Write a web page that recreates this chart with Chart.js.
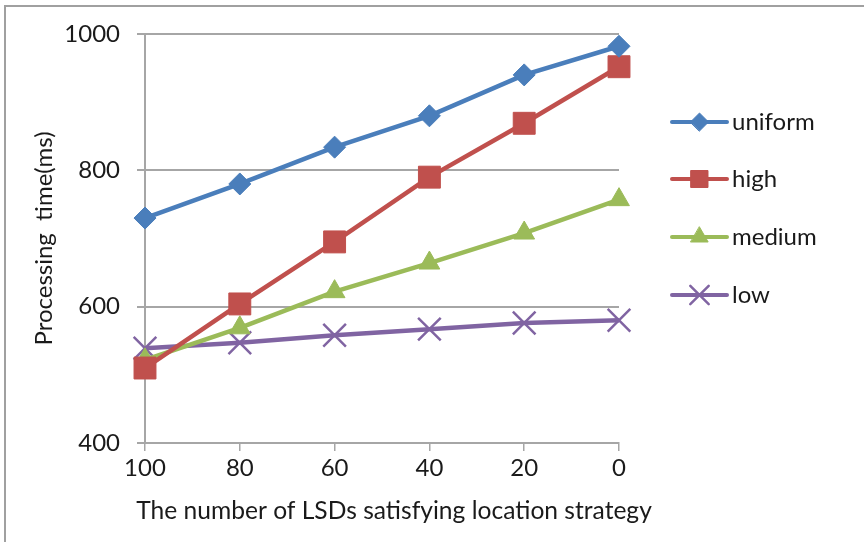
<!DOCTYPE html>
<html>
<head>
<meta charset="utf-8">
<script src="https://cdn.jsdelivr.net/npm/chart.js@4/dist/chart.umd.min.js"></script>
<style>
  html, body { margin: 0; padding: 0; background: #fff; }
  #wrap { width: 864px; height: 542px; }
</style>
</head>
<body>
<div id="wrap"><canvas id="c" width="864" height="542"></canvas></div>
<script>
// Number of LSDs satisfying the location strategy (x categories)
const categories = ['100', '80', '60', '40', '20', '0'];

// Processing time (ms) per distribution
const uniform = [730, 780, 834, 880, 940, 982];
const high    = [510, 604, 695, 790, 869, 952];
const medium  = [522, 569, 622, 664, 708, 757];
const low     = [539, 547, 558, 567, 576, 580];

const seriesNames = ['uniform', 'high', 'medium', 'low'];
const yTicks = [400, 600, 800, 1000];
const xTitle = 'The number of LSDs satisfying location strategy';
const yTitle = 'Processing  time(ms)';

const FONT = 'Lato, "Open Sans", sans-serif';
const TEXT = '#1a1a1a';
const GRID = '#a6a6a6';

const styles = [
  { color: '#4A7EBB', pointStyle: 'rectRot', radius: 11, legendRadius: 9 },
  { color: '#C0504D', pointStyle: 'rect', radius: 15.5, legendRadius: 12 },
  { color: '#9BBB59', pointStyle: 'triangle', radius: 12, legendRadius: 10 },
  { color: '#8064A2', pointStyle: 'crossRot', radius: 16, legendRadius: 13 }
];

const values = [uniform, high, medium, low];

const datasets = values.map((vals, i) => ({
  label: seriesNames[i],
  data: vals,
  borderColor: styles[i].color,
  backgroundColor: styles[i].color,
  borderWidth: 4.5,
  pointStyle: styles[i].pointStyle,
  pointRadius: styles[i].radius,
  pointHoverRadius: styles[i].radius,
  pointBackgroundColor: styles[i].color,
  pointBorderColor: styles[i].color,
  pointBorderWidth: i === 3 ? 2.5 : 1,
  tension: 0,
  clip: false
}));

// Outer frame: top and left edges of the chart box
const framePlugin = {
  id: 'frame',
  beforeDraw(chart) {
    const ctx = chart.ctx;
    ctx.save();
    ctx.fillStyle = '#ffffff';
    ctx.fillRect(0, 0, chart.width, chart.height);
    ctx.strokeStyle = '#a0a0a0';
    ctx.lineWidth = 2;
    ctx.beginPath();
    ctx.moveTo(5, chart.height);
    ctx.lineTo(5, 6);
    ctx.lineTo(chart.width, 6);
    ctx.stroke();
    ctx.restore();
  }
};

// Legend to the right of the plot (line segment with marker, then name)
// and the horizontal axis title below the tick labels
const legendPlugin = {
  id: 'sideLegend',
  afterDraw(chart) {
    const ctx = chart.ctx;
    const x0 = 672, x1 = 727, tx = 732;
    const rows = [122, 179, 237, 295];
    ctx.save();
    chart.data.datasets.forEach((ds, i) => {
      const y = rows[i];
      ctx.strokeStyle = ds.borderColor;
      ctx.lineWidth = 4;
      ctx.lineCap = 'round';
      ctx.beginPath();
      ctx.moveTo(x0, y);
      ctx.lineTo(x1, y);
      ctx.stroke();
      ctx.fillStyle = ds.borderColor;
      ctx.strokeStyle = ds.borderColor;
      ctx.lineWidth = i === 3 ? 2.5 : 1;
      Chart.helpers.drawPoint(ctx, {
        pointStyle: ds.pointStyle,
        rotation: 0,
        radius: styles[i].legendRadius,
        borderWidth: ctx.lineWidth
      }, (x0 + x1) / 2, y);
      ctx.fillStyle = TEXT;
      ctx.font = '24px ' + FONT;
      ctx.textAlign = 'left';
      ctx.textBaseline = 'middle';
      ctx.fillText(ds.label, tx, y);
    });

    ctx.fillStyle = TEXT;
    ctx.font = '24.6px ' + FONT;
    ctx.textAlign = 'center';
    ctx.textBaseline = 'middle';
    const area = chart.chartArea;
    ctx.fillText(xTitle, (area.left + area.right) / 2 + 12, 511);
    ctx.restore();
  }
};

new Chart(document.getElementById('c'), {
  type: 'line',
  data: { labels: categories, datasets },
  plugins: [framePlugin, legendPlugin],
  options: {
    responsive: false,
    animation: false,
    devicePixelRatio: 1,
    layout: { padding: { left: 0, top: 34, right: 245, bottom: 0 } },
    plugins: {
      legend: { display: false },
      tooltip: { enabled: false }
    },
    scales: {
      x: {
        type: 'category',
        offset: false,
        afterFit(scale) { scale.height = 99; },
        grid: {
          drawOnChartArea: false,
          drawTicks: true,
          tickLength: 8,
          color: GRID,
          lineWidth: 1.5
        },
        border: { display: true, color: GRID, width: 2 },
        ticks: {
          color: TEXT,
          padding: 3,
          maxRotation: 0,
          font: { family: FONT, size: 24 }
        },
        title: { display: false }
      },
      y: {
        min: 400,
        max: 1000,
        afterFit(scale) { scale.width = 145; },
        afterBuildTicks(scale) { scale.ticks = yTicks.map(v => ({ value: v })); },
        grid: {
          drawTicks: true,
          tickLength: 8,
          color: GRID,
          lineWidth: 2
        },
        border: { display: true, color: GRID, width: 2 },
        ticks: {
          color: TEXT,
          padding: 17,
          callback: (v) => String(v),
          font: { family: FONT, size: 24 }
        },
        title: {
          display: true,
          text: yTitle,
          color: TEXT,
          font: { family: FONT, size: 24 },
          padding: { top: 30, bottom: 0 }
        }
      }
    }
  }
});
</script>
</body>
</html>
